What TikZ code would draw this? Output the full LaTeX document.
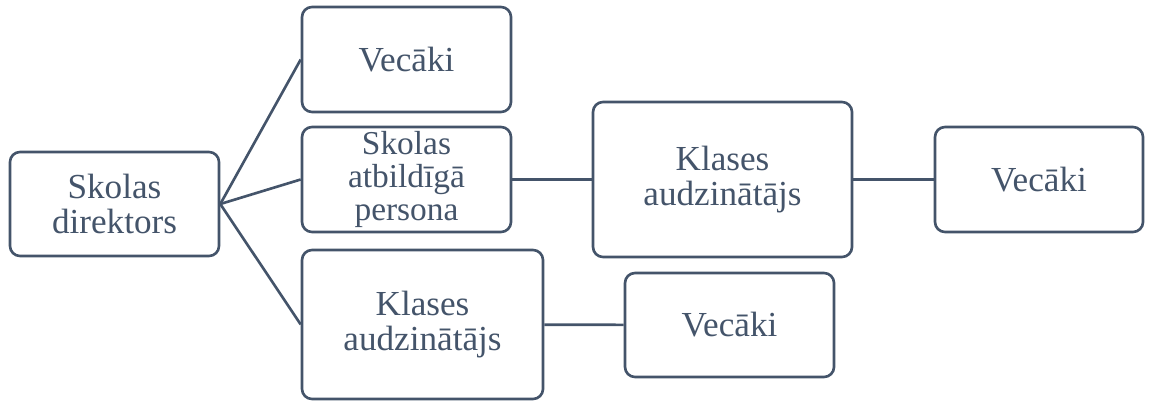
\documentclass[tikz,border=0pt]{standalone}
\usepackage{fontspec}
\setmainfont{LiberationSerif}[Extension=.ttf, UprightFont=*-Regular]
\definecolor{slate}{HTML}{44546A}

\begin{document}
\begin{tikzpicture}[
    box/.style={rectangle, rounded corners=0.2cm, draw=slate, line width=1.5pt, fill=white,
                text=slate, align=center, inner sep=0pt, font=\fontsize{20}{20}\selectfont},
    link/.style={draw=slate, line width=1.5pt}]
    \useasboundingbox (0, 0) rectangle (23.04, 8.02);

    \node[box, minimum width=4.18cm, minimum height=2.08cm] (dir)  at (2.29, 3.94)  {Skolas\\direktors};
    \node[box, minimum width=4.18cm, minimum height=2.10cm] (vec1) at (8.13, 6.83)  {Vecāki};
    \node[box, minimum width=4.18cm, minimum height=2.10cm, font=\fontsize{19}{19}\selectfont]
                                                            (sap)  at (8.13, 4.43)  {Skolas\\atbildīgā\\persona};
    \node[box, minimum width=5.18cm, minimum height=3.10cm] (ka1)  at (14.45, 4.43) {Klases\\audzinātājs};
    \node[box, minimum width=4.16cm, minimum height=2.10cm] (vec2) at (20.78, 4.43) {Vecāki};
    \node[box, minimum width=4.82cm, minimum height=2.98cm] (ka2)  at (8.45, 1.53)  {Klases\\audzinātājs};
    \node[box, minimum width=4.18cm, minimum height=2.08cm] (vec3) at (14.59, 1.52) {Vecāki};

    \draw[link] (dir.east) -- (vec1.west);
    \draw[link] (dir.east) -- (sap.west);
    \draw[link] (dir.east) -- (ka2.west);
    \draw[link] (sap) -- (ka1);
    \draw[link] (ka1) -- (vec2);
    \draw[link] (ka2) -- (vec3);
\end{tikzpicture}
\end{document}
